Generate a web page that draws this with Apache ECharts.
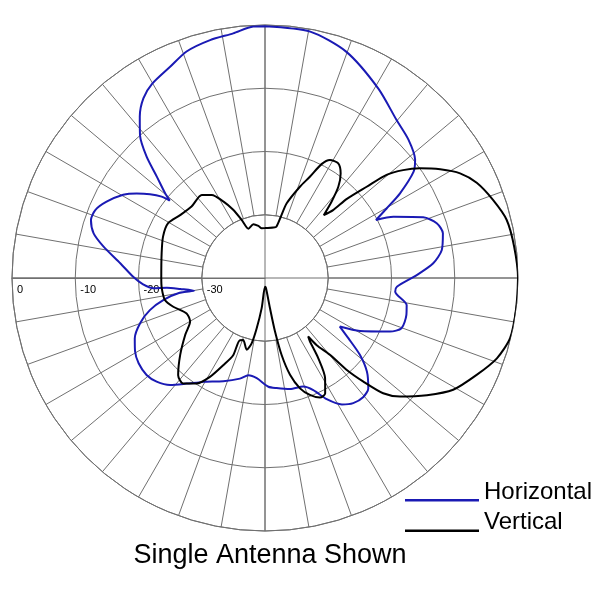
<!DOCTYPE html>
<html>
<head>
<meta charset="utf-8">
<script src="https://cdn.jsdelivr.net/npm/echarts@6/dist/echarts.min.js"></script>
<style>html,body{margin:0;padding:0;background:#fff;}#chart{width:600px;height:600px;}</style>
</head>
<body>
<div id="chart"></div>
<script>
// Compass bearings (deg, 0 = top, clockwise) and relative level (dB)
var horizontalAngles = [0,10.4,19.8,30.9,39.8,46.1,51.8,54.4,57.9,60.2,62.4,64.5,69.0,72.3,75.9,81.0,85.0,88.9,93.8,96.0,100.8,104.6,110.2,113.2,119.2,123.0,125.9,129.0,132.6,136.9,140.4,144.8,148.7,153.0,156.7,160.6,167.3,174.0,178.2,184.7,189.7,194.0,202.0,210.7,216.6,221.6,226.3,230.7,236.0,240.5,245.1,250.1,254.4,257.8,260.2,259.8,262.6,264.4,264.8,267.0,270.4,275.8,281.0,284.6,288.4,291.8,295.7,300.4,303.4,306.1,308.2,309.1,310.3,313.1,315.7,318.8,322.2,325.9,329.8,335.8,340.9,347.0,352.6,357.3,360];
var horizontalDb = [-0.2,-0.4,-2.0,-5.1,-7.5,-8.5,-9.8,-11.1,-14.8,-17.8,-20.2,-17.5,-13.2,-11.5,-11.0,-11.7,-13.3,-16.0,-19.1,-19.3,-17.2,-16.9,-17.0,-18.5,-22.8,-25.9,-23.7,-20.7,-18.1,-16.1,-15.6,-15.8,-16.6,-18.5,-20.7,-21.8,-22.0,-22.5,-22.8,-24.1,-24.4,-23.6,-22.4,-20.9,-19.2,-17.4,-16.3,-15.8,-15.9,-16.4,-17.3,-19.0,-21.1,-23.6,-26.3,-28.6,-26.5,-24.4,-22.3,-20.7,-19.2,-17.0,-14.0,-12.0,-11.0,-11.1,-12.2,-14.0,-15.7,-17.5,-19.2,-20.6,-19.3,-16.6,-13.2,-10.0,-7.7,-5.7,-4.5,-3.4,-2.1,-1.4,-1.0,-0.2,-0.2];

var verticalAngles = [0,9.3,12.5,14.5,16.2,21.0,23.9,26.4,28.8,32.6,35.9,38.8,41.1,43.1,45.1,46.0,48.1,49.7,52.0,54.7,58.2,61.8,65.8,71.1,76.5,82.8,90,96.9,103.8,109.1,114.6,120.7,125.9,131.3,134.3,136.5,138.4,139.8,142.4,143.6,144.7,146.4,149.1,152.5,155.3,159.0,162.4,165.5,167.8,169.4,170.6,174.5,180,186.3,189.4,191.5,194.3,199.3,202.0,202.4,205.6,209.1,213.0,217.8,221.8,227.8,234.5,239.8,245.7,252.6,257.6,264.3,270.2,283.4,292.1,299.5,306.5,314.2,322.7,327.3,331.4,335.0,338.1,341.4,347.8,352.8,356.2,360];
var verticalDb = [-32.1,-31.9,-31.7,-30.0,-27.7,-24.5,-22.5,-19.9,-18.7,-18.5,-19.6,-21.5,-24.0,-26.4,-24.8,-22.0,-18.4,-14.8,-12.3,-10.0,-7.4,-5.0,-3.3,-1.9,-0.7,-0.3,0,0,-0.1,-1.2,-3.2,-5.4,-8.4,-11.6,-13.9,-17.4,-20.6,-24.1,-26.6,-28.5,-27.7,-24.8,-21.5,-19.4,-19.2,-20.2,-21.7,-24.2,-27.5,-31.4,-35.1,-38.4,-38.6,-35.2,-31.9,-29.5,-28.3,-29.6,-29.4,-26.8,-24.7,-22.1,-20.1,-18.9,-19.4,-21.9,-24.5,-26.3,-26.4,-24.8,-23.8,-23.6,-23.6,-23.2,-22.6,-22.4,-23.3,-23.8,-23.5,-24.4,-26.2,-28.1,-30.1,-31.8,-31.3,-31.7,-32.1,-32.1];

var seriesNames = ['Horizontal', 'Vertical'];
var radiusTicks = [-40, -30, -20, -10, 0];
var titleText = 'Single Antenna Shown';

var CX = 265, CY = 278, R = 253;
var RMIN = radiusTicks[0], RMAX = radiusTicks[radiusTicks.length - 1];
var GRID = '#707070';
var FONT = '"Liberation Sans", Arial, sans-serif';

function toPolar(angles, db) {
  return angles.map(function (a, i) { return [db[i], (a + 90) % 360]; });
}
var innerR = R * (radiusTicks[1] - RMIN) / (RMAX - RMIN);

var chart = echarts.init(document.getElementById('chart'), null, {renderer: 'canvas'});
chart.setOption({
  backgroundColor: '#fff',
  animation: false,
  title: {
    text: titleText, left: CX, top: 537, textAlign: 'center',
    textStyle: {fontFamily: FONT, fontSize: 27, fontWeight: 'normal', color: '#000'}
  },
  legend: {
    data: seriesNames, orient: 'vertical', left: 400, top: 475,
    itemWidth: 74, itemHeight: 19, itemGap: 6.5,
    icon: 'path://M0,0h0.01v0.01h-0.01zM0,16.5h74v2.5h-74z',
    itemStyle: {borderWidth: 0},
    textStyle: {fontFamily: FONT, fontSize: 24, color: '#000'}
  },
  polar: {center: [CX, CY], radius: R},
  angleAxis: {
    type: 'value', min: 0, max: 360, interval: 10, startAngle: 180, clockwise: true, z: 0,
    axisLine: {lineStyle: {color: GRID, width: 1}},
    axisTick: {show: false}, axisLabel: {show: false},
    splitLine: {show: true, lineStyle: {color: GRID, width: 1}}
  },
  radiusAxis: {
    type: 'value', min: RMIN, max: RMAX, interval: 10, z: 2,
    axisLine: {show: true, lineStyle: {color: GRID, width: 1}},
    axisTick: {show: false},
    splitLine: {show: true, lineStyle: {color: GRID, width: 1}},
    axisLabel: {
      show: true, color: '#000', fontFamily: FONT, fontSize: 11,
      align: 'left', verticalAlign: 'top', margin: 6, padding: [0, 0, 0, 5],
      formatter: function (v) { return v === RMIN ? '' : String(v); }
    }
  },
  graphic: [
    {type: 'circle', z: 1, shape: {cx: CX, cy: CY, r: innerR}, style: {fill: '#fff', stroke: GRID, lineWidth: 1}},
    {type: 'line', z: 1, shape: {x1: CX - R, y1: CY, x2: CX + R, y2: CY}, style: {stroke: GRID, lineWidth: 1}},
    {type: 'line', z: 1, shape: {x1: CX, y1: CY - R, x2: CX, y2: CY + R}, style: {stroke: GRID, lineWidth: 1}}
  ],
  series: [
    {name: seriesNames[0], type: 'line', coordinateSystem: 'polar', z: 3, showSymbol: false, symbol: 'none', smooth: 0.25,
     data: toPolar(horizontalAngles, horizontalDb), color: '#1a1ab4',
     lineStyle: {color: '#1a1ab4', width: 2}, itemStyle: {color: '#1a1ab4'}},
    {name: seriesNames[1], type: 'line', coordinateSystem: 'polar', z: 3, showSymbol: false, symbol: 'none', smooth: 0.25,
     data: toPolar(verticalAngles, verticalDb), color: '#000',
     lineStyle: {color: '#000', width: 2}, itemStyle: {color: '#000'}}
  ]
});
</script>
</body>
</html>
